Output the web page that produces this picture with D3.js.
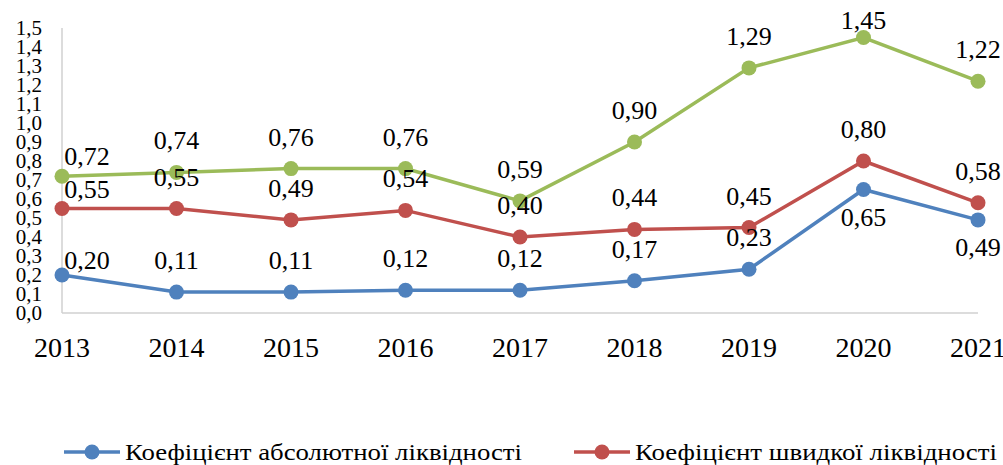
<!DOCTYPE html>
<html>
<head>
<meta charset="utf-8">
<script src="https://cdn.jsdelivr.net/npm/d3@7"></script>
<style>
  body { margin: 0; background: #fff; }
  svg { display: block; }
  svg text { font-family: 'Liberation Serif', 'DejaVu Serif', serif; }
</style>
</head>
<body>
<svg id="chart" width="1003" height="465"></svg>
<script>
// chart data
const years = ['2013', '2014', '2015', '2016', '2017', '2018', '2019', '2020', '2021'];
const absoluteLiq = [0.20, 0.11, 0.11, 0.12, 0.12, 0.17, 0.23, 0.65, 0.49];
const quickLiq = [0.55, 0.55, 0.49, 0.54, 0.40, 0.44, 0.45, 0.80, 0.58];
const currentLiq = [0.72, 0.74, 0.76, 0.76, 0.59, 0.90, 1.29, 1.45, 1.22];
const yTicks = d3.range(0, 16).map(i => i / 10);

const series = [
  { name: 'Коефіцієнт абсолютної ліквідності', values: absoluteLiq, color: '#4f81bd', legend: true },
  { name: 'Коефіцієнт швидкої ліквідності', values: quickLiq, color: '#c0504d', legend: true },
  { name: 'Коефіцієнт поточної ліквідності', values: currentLiq, color: '#9bbb59', legend: false }
];

const svg = d3.select('#chart').attr('font-family', "'Liberation Serif', 'DejaVu Serif', serif");
const plotLeft = 62, plotRight = 978, plotTop = 28, plotBottom = 313;

const x = d3.scalePoint().domain(years).range([plotLeft, plotRight]);
const y = d3.scaleLinear().domain([0, 1.5]).range([plotBottom, plotTop]);
const fmt = v => v.toFixed(2).replace('.', ',');

// axes lines
svg.append('line').attr('x1', plotLeft).attr('x2', plotLeft).attr('y1', plotTop).attr('y2', plotBottom)
  .attr('stroke', '#d0d0d0').attr('stroke-width', 1.5);
svg.append('line').attr('x1', plotLeft).attr('x2', plotRight).attr('y1', plotBottom).attr('y2', plotBottom)
  .attr('stroke', '#d0d0d0').attr('stroke-width', 1.5);

// y tick labels
svg.append('g').selectAll('text').data(yTicks).enter().append('text')
  .attr('x', 42).attr('y', d => y(d) + 7)
  .attr('text-anchor', 'end').attr('font-size', 21)
  .text(d => d.toFixed(1).replace('.', ','));

// x tick labels
svg.append('g').selectAll('text').data(years).enter().append('text')
  .attr('x', d => x(d)).attr('y', 357)
  .attr('text-anchor', 'middle').attr('font-size', 28)
  .text(d => d);

const line = d3.line().x((d, i) => x(years[i])).y(d => y(d));

series.forEach(s => {
  const g = svg.append('g');
  g.append('path').datum(s.values)
    .attr('d', line).attr('fill', 'none')
    .attr('stroke', s.color).attr('stroke-width', 3.5);
  g.selectAll('circle').data(s.values).enter().append('circle')
    .attr('cx', (d, i) => x(years[i])).attr('cy', d => y(d))
    .attr('r', 7.5).attr('fill', s.color);
});

// data labels
series.forEach((s, si) => {
  svg.append('g').selectAll('text').data(s.values).enter().append('text')
    .attr('font-size', 26)
    .attr('text-anchor', 'middle')
    .attr('x', (d, i) => x(years[i]) + (i === 0 ? 25 : 0))
    .attr('y', (d, i) => {
      let dy = -23;
      if (i === 0) dy = si === 0 ? -6 : -11;
      if (si === 0 && i >= 7) dy = 36;
      if (si === 2 && i === 7) dy = -9;
      return y(d) + dy;
    })
    .text(d => fmt(d));
});

// legend
const legendItems = series.filter(s => s.legend);
const legendX = [64, 574];
const legendW = [397, 362];
legendItems.forEach((s, i) => {
  const g = svg.append('g').attr('transform', `translate(${legendX[i]},452)`);
  g.append('line').attr('x1', 0).attr('x2', 56).attr('stroke', s.color).attr('stroke-width', 3.5);
  g.append('circle').attr('cx', 28).attr('r', 7.5).attr('fill', s.color);
  g.append('text').attr('x', 61).attr('y', 8).attr('font-size', 24)
    .attr('textLength', legendW[i]).attr('lengthAdjust', 'spacingAndGlyphs')
    .text(s.name);
});
</script>
</body>
</html>
